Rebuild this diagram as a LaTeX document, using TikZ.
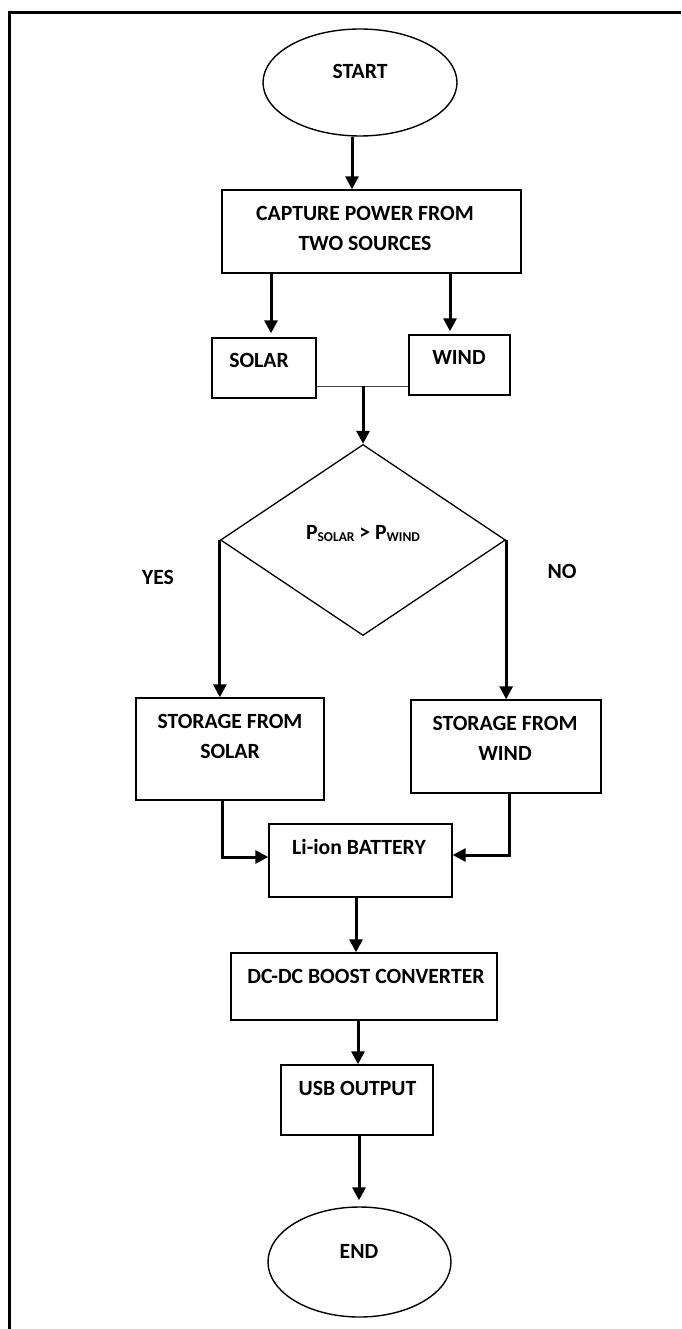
\documentclass[tikz,border=0pt]{standalone}
\usepackage{fontspec}
\setmainfont{Carlito}
\usetikzlibrary{arrows.meta,shapes.geometric}
\tikzset{
  box/.style={draw,line width=1.4pt,rectangle,inner sep=0pt},
  oval/.style={draw,line width=1.4pt,ellipse,inner sep=0pt},
  decision/.style={draw,line width=1.3pt,diamond,inner sep=0pt},
  txt/.style={inner sep=0pt,font=\bfseries\fontsize{21.7}{30}\selectfont,align=center},
  arr/.style={line width=3pt,-{Triangle[width=13pt,length=13pt]}},
  thin line/.style={line width=1pt,draw=black!75}
}
\newcommand{\subtxt}[1]{\raisebox{-1.5pt}{\fontsize{13.5}{14}\selectfont #1}}
\begin{document}
\begin{tikzpicture}[x=1pt,y=-1pt]
\useasboundingbox (0,0) rectangle (681,1329);
% page border
\draw[line width=3pt,line join=miter] (9.5,1329) -- (9.5,12.5) -- (681,12.5);

% shapes
\node[oval,minimum width=194pt,minimum height=107pt] (start) at (360,82.5) {};
\node[box,minimum width=299pt,minimum height=83pt] (capture) at (371.5,231.5) {};
\node[box,minimum width=104pt,minimum height=60pt] (solar) at (264,368) {};
\node[box,minimum width=101pt,minimum height=60pt] (wind) at (459.5,365) {};
\node[decision,minimum width=285pt,minimum height=191pt] (dec) at (363,540) {};
\node[box,minimum width=188pt,minimum height=102pt] (solarst) at (230,749) {};
\node[box,minimum width=190pt,minimum height=93pt] (windst) at (506,746.5) {};
\node[box,minimum width=183pt,minimum height=73pt] (battery) at (360.5,860.5) {};
\node[box,minimum width=266pt,minimum height=67pt] (dcdc) at (364,986.5) {};
\node[box,minimum width=152pt,minimum height=70pt] (usb) at (357,1100) {};
\node[oval,minimum width=183pt,minimum height=110pt] (endn) at (359.5,1262) {};

% texts
\node[txt,anchor=base] (tstart) at (360,79) {START};
\node[txt,anchor=north] (tcapture) at (365,206) {CAPTURE POWER FROM\\TWO SOURCES};
\node[txt,anchor=base] (tsolar) at (259,367) {SOLAR};
\node[txt,anchor=base] (twind) at (459,364) {WIND};
\node[txt,anchor=base] (tdec) at (363,539.5) {P\subtxt{SOLAR} > P\subtxt{WIND}};
\node[txt,anchor=base] (tyes) at (158,584.5) {YES};
\node[txt,anchor=base] (tno) at (562,578.5) {NO};
\node[txt,anchor=north] (tsolarst) at (230,714) {STORAGE FROM\\SOLAR};
\node[txt,anchor=north] (twindst) at (505,716) {STORAGE FROM\\WIND};
\node[txt,anchor=base] (tbattery) at (359,854) {Li-ion BATTERY};
\node[txt,anchor=base] (tdcdc) at (366,983) {DC-DC BOOST CONVERTER};
\node[txt,anchor=base] (tusb) at (357.5,1095) {USB OUTPUT};
\node[txt,anchor=base] (tend) at (359,1258) {END};

% helper coordinates
\coordinate (x1) at (352,0);
\coordinate (xl) at (271,0);
\coordinate (xr) at (450,0);
\coordinate (jn) at (363,386);
\coordinate (bl) at (222,857);
\coordinate (br) at (509,855);
\coordinate (x2) at (356,0);
\coordinate (x3) at (358,0);
\coordinate (x4) at (359,0);

% connectors
\draw[arr] (start.south -| x1) -- (capture.north -| x1);
\draw[arr,shorten >=4pt] (capture.south -| xl) -- (solar.north -| xl);
\draw[arr,shorten >=3pt] (capture.south -| xr) -- (wind.north -| xr);
\draw[thin line] (solar.east |- jn) -- (wind.west |- jn);
\draw[arr] (jn) -- (dec.north);
\draw[arr] (dec.west) -- (solarst.north -| dec.west);
\draw[arr] (dec.east) -- (windst.north -| dec.east);
\draw[arr] (solarst.south -| bl) -- (bl) -- (battery.west |- bl);
\draw[arr] (windst.south -| br) -- (br) -- (battery.east |- br);
\draw[arr] (battery.south -| x2) -- (dcdc.north -| x2);
\draw[arr] (dcdc.south -| x3) -- (usb.north -| x3);
\draw[arr,shorten >=6pt] (usb.south -| x4) -- (endn.north -| x4);
\end{tikzpicture}
\end{document}
